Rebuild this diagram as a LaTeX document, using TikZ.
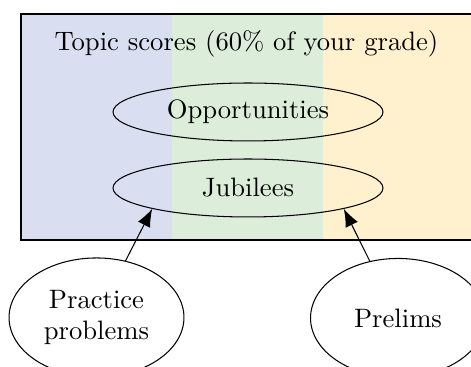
\documentclass[tikz,border=0pt]{standalone}
\usetikzlibrary{shapes.geometric,arrows.meta}
\definecolor{bandblue}{RGB}{217,223,241}
\definecolor{bandgreen}{RGB}{220,238,218}
\definecolor{bandyellow}{RGB}{255,241,205}
\tikzset{
  every node/.style={font=\fontsize{10.2}{12.2}\selectfont},
  oval/.style={draw,ellipse,line width=0.4pt,inner sep=0pt},
  wide/.style={oval,minimum width=103.4pt,minimum height=22.2pt},
  round/.style={oval,minimum width=67pt,minimum height=45.6pt,align=center},
  arr/.style={-{Latex[length=6.8pt,width=5.2pt]},line width=0.4pt},
  frame/.style={draw,line width=0.7pt}
}
\begin{document}
\begin{tikzpicture}[x=0.383pt,y=-0.383pt]
\useasboundingbox (0,0) rectangle (471,367);
\clip (0,0) rectangle (471,367);
\fill[bandblue] (21,14) rectangle (172,240);
\fill[bandgreen] (172,14) rectangle (323,240);
\fill[bandyellow] (323,14) rectangle (500,240);
\draw[frame] (21,14) rectangle (500,240);
\node (title) at (246.5,44) {Topic scores (60\% of your grade)};
\node[wide] (opp) at (248,112) {Opportunities};
\node[wide] (jub) at (248,188) {Jubilees};
\node[round] (practice) at (96.5,317.5) {Practice\\problems};
\node[round] (prelims) at (398,318) {Prelims};
\draw[arr] (practice) -- (jub.south west);
\draw[arr] (prelims) -- (jub.south east);
\end{tikzpicture}
\end{document}
